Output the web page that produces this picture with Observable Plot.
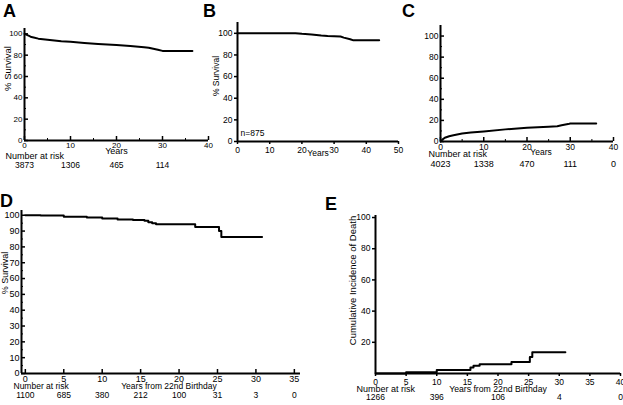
<!DOCTYPE html>
<html><head><meta charset="utf-8">
<script src="https://cdn.jsdelivr.net/npm/d3@7"></script>
<script src="https://cdn.jsdelivr.net/npm/@observablehq/plot@0.6"></script>
<style>
body{margin:0;background:#fff;}
#fig{position:relative;width:623px;height:405px;overflow:hidden;background:#fff;font-family:"Liberation Sans",Arial,sans-serif;color:#000;}
.panel{position:absolute;}
.lab{position:absolute;font-weight:bold;font-size:18px;line-height:1;font-family:"Liberation Sans",Arial,sans-serif;}
</style></head><body><div id="fig"></div>
<script>
// Panel A: overall survival
const aYears = [0,0.5,1,1.5,2,3,4,6,8,10,13,16,20,23,26,27,28,29,30,36.5];
const aSurv  = [100,99,98,97,96.5,95.5,95,94,93,92.5,91.5,90.5,89.5,88.5,87.5,87,86,85,84,84];
const aRiskT = [0,10,20,30];
const aRiskN = ["3873","1306","465","114"];
// Panel B
const bYears = [0,18,20,23,26,28,32,33,35,36,44];
const bSurv  = [100,100,99.5,99,98,97.5,97,96,94.5,93.5,93.5];
// Panel C: cumulative incidence
const cYears = [0,0.5,1,2,3,5,7,10,15,20,25,27,28,29.5,30,36];
const cInc   = [0,2,3.5,5,6,7.5,8.5,9.5,11.5,13,14,14.5,15.5,16.5,17,17];
const cRiskT = [0,10,20,30,40];
const cRiskN = ["4023","1338","470","111","0"];
// Panel D: survival from 22nd birthday
const dYears = [0,2,5,8,10,12,14,15.5,16,16.5,17,22.1,25.2,25.5,30.8];
const dSurv  = [100,99.8,99,98.5,98,97.3,97,96.5,95.5,95,94.3,92.6,90,86.3,86.3];
const dRiskT = [0,5,10,15,20,25,30,35];
const dRiskN = ["1100","685","380","212","100","31","3","0"];
// Panel E: cumulative incidence of death from 22nd birthday
const eYears = [0,5,10,15.5,16,17,22.2,25.2,25.6,31];
const eInc   = [0,0.8,2.2,3.8,5,6,7.3,10.5,13.7,13.7];
const eRiskT = [0,10,20,30,40];
const eRiskN = ["1266","396","106","4","0"];

const FONT = "'Liberation Sans', Arial, sans-serif";
const fig = document.getElementById("fig");

function panel(o) {
  const tk = o.inward ? 4 : 3;
  const marks = [
    Plot.ruleX([o.xDomain[0]], {strokeWidth: 2}),
    Plot.ruleY([o.yDomain[0]], {strokeWidth: 2}),
    Plot.axisY(o.yTicks, {anchor: "left", tickSize: o.inward ? 0 : tk, tickPadding: 2, label: null, fontSize: o.tickFont, strokeWidth: 1.5}),
    Plot.axisX(o.xTicks, {anchor: "bottom", tickSize: o.inward ? 0 : tk, tickPadding: 2, label: null, fontSize: o.tickFont, strokeWidth: 1.5}),
    Plot.line(o.xs, {x: o.xs, y: o.ys, curve: o.curve || "linear", strokeWidth: 2, stroke: "#000"}),
    ...(o.extra || [])
  ];
  if (o.inward) {
    marks.push(Plot.axisY(o.yTicks, {anchor: "left", tickSize: tk, dx: tk, tickFormat: () => "", label: null, strokeWidth: 1.5}));
    marks.push(Plot.axisX(o.xTicks, {anchor: "bottom", tickSize: tk, dy: -tk, tickFormat: () => "", label: null, strokeWidth: 1.5}));
    if (o.yMinor) marks.push(Plot.axisY(o.yMinor, {anchor: "left", tickSize: 2, dx: 2, tickFormat: () => "", label: null, strokeWidth: 1}));
    if (o.xMinor) marks.push(Plot.axisX(o.xMinor, {anchor: "bottom", tickSize: 2, dy: -2, tickFormat: () => "", label: null, strokeWidth: 1}));
  }
  const p = Plot.plot({
    width: o.width, height: o.height,
    marginLeft: o.mL, marginRight: o.mR, marginTop: o.mT, marginBottom: o.mB,
    x: {domain: o.xDomain, axis: null},
    y: {domain: o.yDomain, axis: null},
    style: {fontFamily: FONT, color: "#000", background: "transparent", overflow: "visible"},
    marks
  });
  const d = document.createElement("div");
  d.className = "panel";
  d.style.left = o.left + "px";
  d.style.top = o.top + "px";
  d.appendChild(p);
  fig.appendChild(d);
}

function label(t, x, y) {
  const d = document.createElement("div");
  d.className = "lab";
  d.textContent = t;
  d.style.left = x + "px";
  d.style.top = y + "px";
  fig.appendChild(d);
}

const ticks = (a, b, s) => d3.range(a, b + 0.001, s);
const yLab = (t, dx, dy, fs) => Plot.text([t], {frameAnchor: "left", textAnchor: "middle", rotate: -90, dx, dy, fontSize: fs});

// A
panel({
  left: 0, top: 0, width: 220, height: 175, mL: 24, mR: 12, mT: 28, mB: 35,
  xDomain: [0, 40], yDomain: [0, 105], xTicks: ticks(0, 40, 10), yTicks: ticks(0, 100, 20),
  xMinor: [5, 15, 25, 35], yMinor: [10, 30, 50, 70, 90], inward: true, tickFont: 8,
  xs: aYears, ys: aSurv,
  extra: [
    yLab("% Survival", -17, -16, 9.5),
    Plot.text(["Years"], {frameAnchor: "bottom", dy: 13, fontSize: 9}),
    Plot.text(["Number at risk"], {frameAnchor: "bottom-left", textAnchor: "start", dx: -19, dy: 18, fontSize: 9}),
    Plot.text(aRiskT, {x: d => d, text: aRiskN, frameAnchor: "bottom", dy: 27, fontSize: 8.5})
  ]
});

// B
panel({
  left: 200, top: 0, width: 210, height: 175, mL: 37, mR: 12, mT: 22, mB: 34,
  xDomain: [0, 50], yDomain: [0, 110], xTicks: ticks(0, 50, 10), yTicks: ticks(0, 100, 20),
  inward: false, tickFont: 8.5,
  xs: bYears, ys: bSurv,
  extra: [
    yLab("% Survival", -21, -6, 8.5),
    Plot.text(["Years"], {frameAnchor: "bottom", dy: 14, fontSize: 8.5}),
    Plot.text(["n=875"], {frameAnchor: "bottom-left", textAnchor: "start", dx: 3, dy: -6, fontSize: 8.5})
  ]
});

// C
panel({
  left: 410, top: 0, width: 213, height: 175, mL: 30, mR: 10, mT: 25, mB: 34,
  xDomain: [0, 40], yDomain: [0, 110], xTicks: ticks(0, 40, 10), yTicks: ticks(0, 100, 20),
  xMinor: [5, 15, 25, 35], yMinor: [10, 30, 50, 70, 90], inward: true, tickFont: 8.5,
  xs: cYears, ys: cInc,
  extra: [
    Plot.text(["Years"], {frameAnchor: "bottom", dx: 14, dy: 13, fontSize: 8.5}),
    Plot.text(["Number at risk"], {frameAnchor: "bottom-left", textAnchor: "start", dx: -12, dy: 15, fontSize: 9}),
    Plot.text(cRiskT, {x: d => d, text: cRiskN, frameAnchor: "bottom", dy: 25, fontSize: 9})
  ]
});

// D
panel({
  left: 0, top: 190, width: 320, height: 215, mL: 21, mR: 20, mT: 20, mB: 32,
  xDomain: [-0.5, 35.8], yDomain: [0, 103], xTicks: ticks(0, 35, 5), yTicks: ticks(0, 100, 10),
  yMinor: ticks(5, 95, 10), inward: true, tickFont: 9,
  xs: dYears, ys: dSurv, curve: "step-after",
  extra: [
    yLab("% Survival", -16, -19, 9),
    Plot.text(["Number at risk"], {frameAnchor: "bottom-left", textAnchor: "start", dx: -8, dy: 15, fontSize: 8.5}),
    Plot.text(["Years from 22nd Birthday"], {frameAnchor: "bottom", dx: 8, dy: 15, fontSize: 8.5}),
    Plot.text(dRiskT, {x: d => d, text: dRiskN, frameAnchor: "bottom", dy: 24, fontSize: 8.5})
  ]
});

// E
panel({
  left: 320, top: 190, width: 303, height: 215, mL: 55, mR: 3, mT: 25, mB: 32,
  xDomain: [0, 40], yDomain: [0, 101.3], xTicks: ticks(0, 40, 5), yTicks: ticks(20, 100, 20),
  inward: false, tickFont: 8.5,
  xs: eYears, ys: eInc, curve: "step-after",
  extra: [
    yLab("Cumulative Incidence of Death", -23, -14, 9.5),
    Plot.text(["Number at risk"], {frameAnchor: "bottom-left", textAnchor: "start", dx: -19, dy: 18, fontSize: 9}),
    Plot.text(["Years from 22nd Birthday"], {frameAnchor: "bottom", dy: 18, fontSize: 8.7}),
    Plot.text(eRiskT, {x: d => d, text: eRiskN, frameAnchor: "bottom", dy: 26, fontSize: 8.5})
  ]
});

label("A", 3, 2);
label("B", 203, 2);
label("C", 402, 2);
label("D", 0, 192);
label("E", 325, 195);
</script>
</body></html>
